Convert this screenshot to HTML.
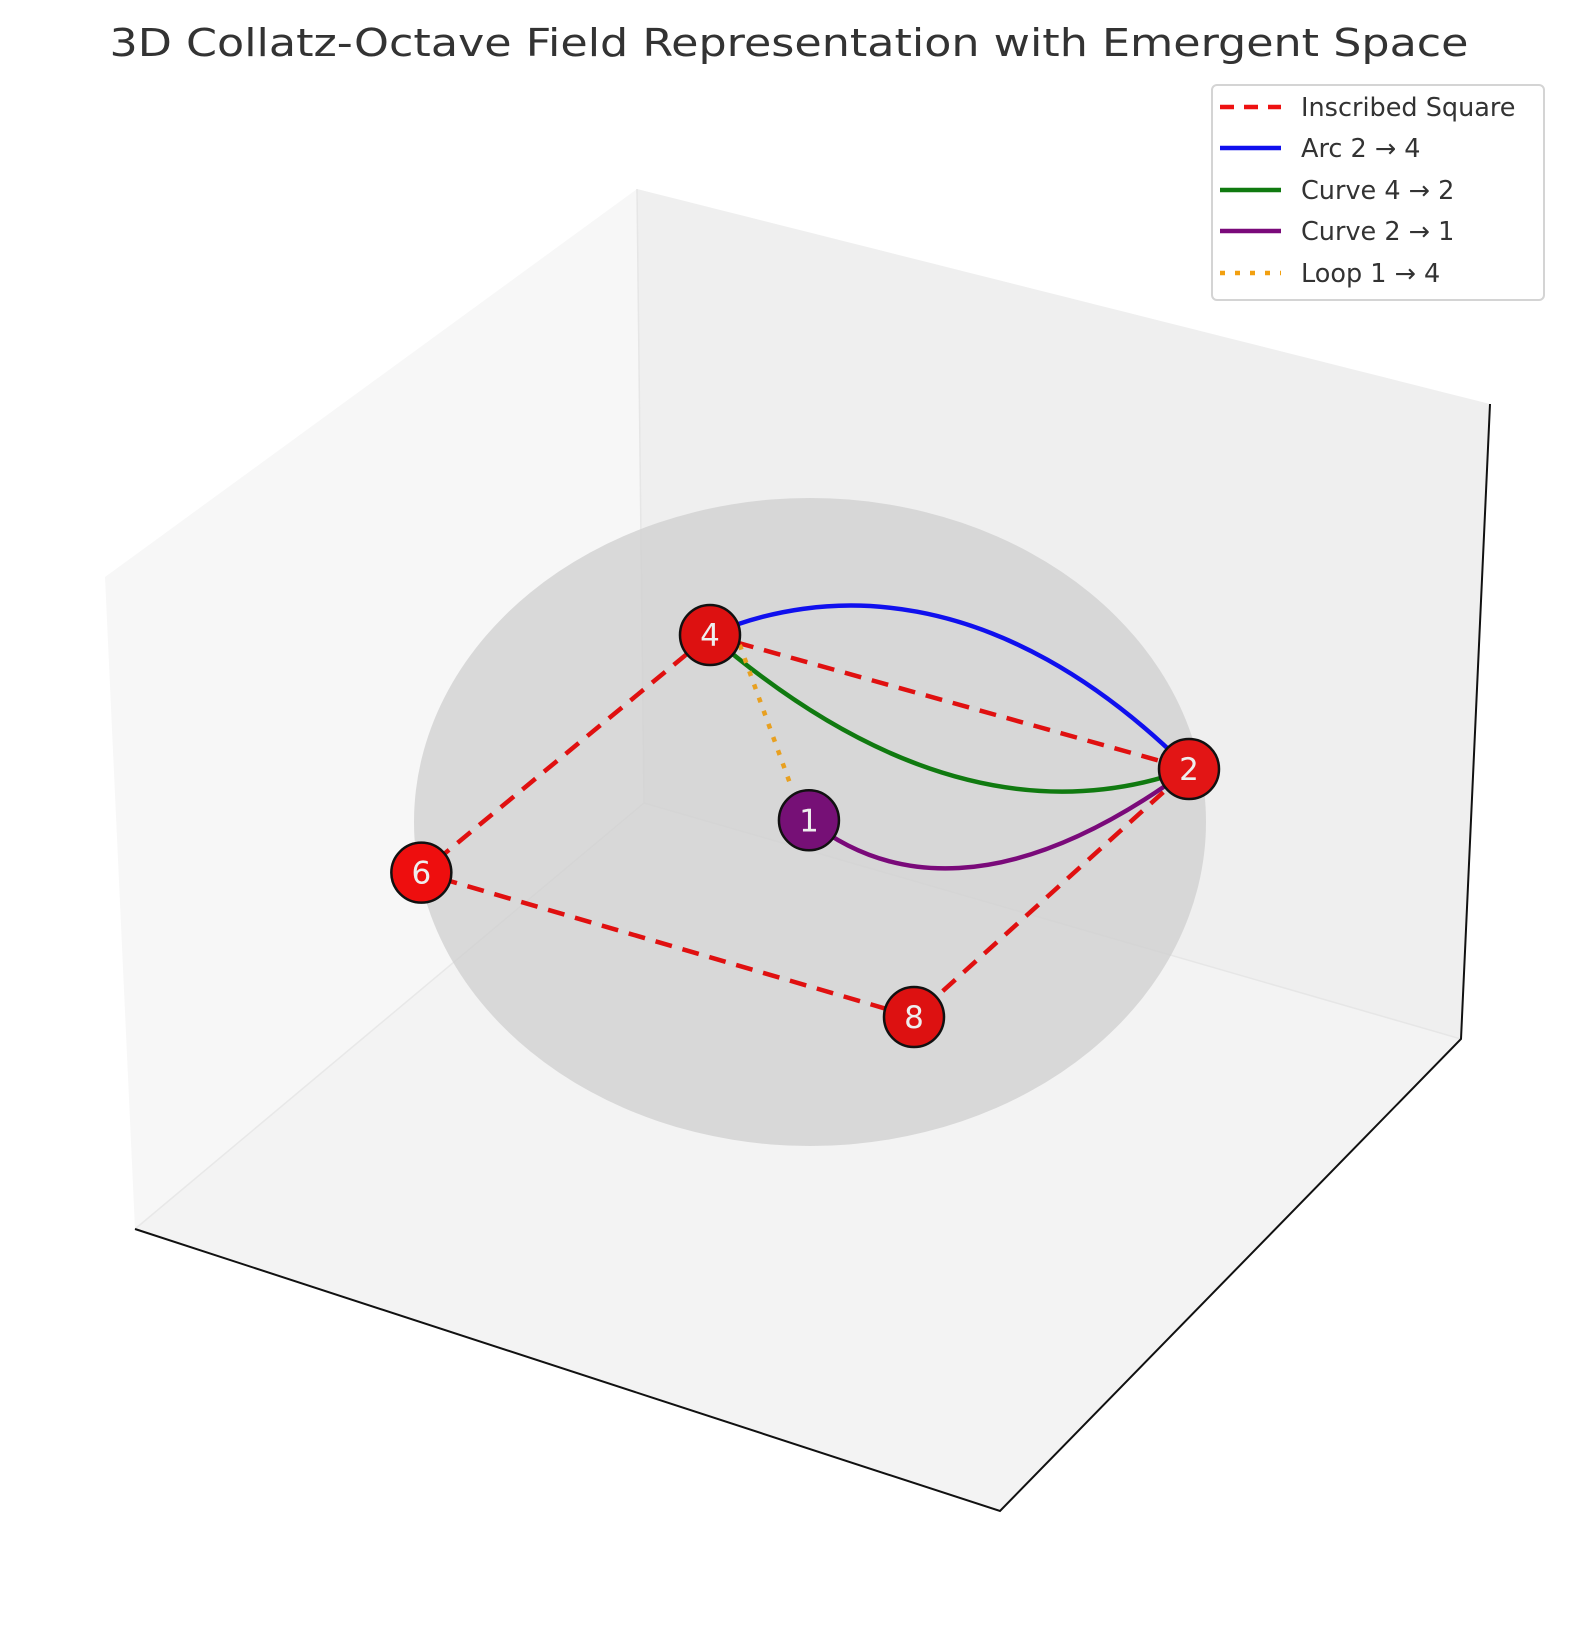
<!DOCTYPE html>
<html><head><meta charset="utf-8"><style>
html,body{margin:0;padding:0;background:#fff;}
svg{display:block;font-family:"DejaVu Sans","Liberation Sans",sans-serif;}
</style></head><body>
<svg id="chart" width="1580" height="1630" viewBox="0 0 1580 1630">
  <text x="789" y="56" text-anchor="middle" font-size="38" fill="#333" textLength="1359" lengthAdjust="spacingAndGlyphs">3D Collatz-Octave Field Representation with Emergent Space</text>
  <polygon points="637,189 105,577 135,1229 644,803" fill="#f7f7f7"/>
  <polygon points="637,189 1490,404 1461,1039 644,803" fill="#efefef"/>
  <polygon points="644,803 135,1229 1000,1511 1461,1039" fill="#f3f3f3"/>
  <line x1="637" y1="189" x2="644" y2="803" stroke="#e6e6e6" stroke-width="1.5"/>
  <line x1="644" y1="803" x2="135" y2="1229" stroke="#e8e8e8" stroke-width="1.5"/>
  <line x1="644" y1="803" x2="1461" y2="1039" stroke="#e6e6e6" stroke-width="1.5"/>
  <polyline points="135,1229 1000,1511 1461,1039 1490,404" fill="none" stroke="#111" stroke-width="2"/>
  <ellipse cx="810" cy="822" rx="396" ry="324" fill="#cfcfcf" fill-opacity="0.75"/>
  <g id="marks"></g>
  <g>
    <rect x="1212" y="85" width="332" height="215" rx="5" fill="#fff" fill-opacity="0.85" stroke="#d4d4d4" stroke-width="2"/>
    <g id="legend-items"></g>
  </g>
</svg>
<script>
const NS='http://www.w3.org/2000/svg';
// node data in plane coords (u,v)
const nodeLabels=['4','2','8','6','1'];
const nodeU=[0,1,0,-1.02,0];
const nodeV=[1,0,-1,0.06,0.03];
const nodeColors=['#dd1111','#e21515','#dd1111','#ee0e0e','#761076'];
const squareOrder=[0,1,2,3,0];
// curves: control points (u,v)
const blueU=[0,0.326,0.777,1], blueV=[1,1.149,1.081,0];
const greenU=[0,0.144,0.426,1], greenV=[1,0.464,-0.2,0];
const purpleU=[0,0.108,0.374,1], purpleV=[0.03,-0.32,-0.52,0];
const loopU=[0.06,0], loopV=[0.93,0.2];
const legendLabels=['Inscribed Square','Arc 2 → 4','Curve 4 → 2','Curve 2 → 1','Loop 1 → 4'];
const legendColors=['#ee1111','#1010ee','#107a10','#7a0a7a','#f2a010'];
const legendDash=['14,10','','','','5,10'];

const C=[812,826], EX=[377,-57], EY=[-102,-191];
function px(u,v){return C[0]+u*EX[0]+v*EY[0];}
function py(u,v){return C[1]+u*EX[1]+v*EY[1];}
const marks=document.getElementById('marks');
function mk(tag,attrs){const e=document.createElementNS(NS,tag);for(const k in attrs)e.setAttribute(k,attrs[k]);return e;}

let d='';
squareOrder.forEach((i,k)=>{d+=(k?'L':'M')+px(nodeU[i],nodeV[i])+','+py(nodeU[i],nodeV[i]);});
const sq=mk('path',{d:d,fill:'none',stroke:'#e01010','stroke-width':4.5,'stroke-dasharray':'17,11'});


marks.appendChild(sq);

function curve(U,V,color,name){
  const dd='M'+px(U[0],V[0])+','+py(U[0],V[0])+' C'+[1,2,3].map(i=>px(U[i],V[i])+','+py(U[i],V[i])).join(' ');
  const p=mk('path',{d:dd,fill:'none',stroke:color,'stroke-width':4.5});
  
  
  marks.appendChild(p);
}
curve(blueU,blueV,'#1010ee','arc-2-4');
curve(greenU,greenV,'#107a10','curve-4-2');
curve(purpleU,purpleV,'#7a0a7a','curve-2-1');
const lp=mk('line',{x1:px(loopU[0],loopV[0]),y1:py(loopU[0],loopV[0]),x2:px(loopU[1],loopV[1]),y2:py(loopU[1],loopV[1]),stroke:'#e8a020','stroke-width':4.5,'stroke-dasharray':'5,9'});


marks.appendChild(lp);

nodeLabels.forEach((lab,i)=>{
  const x=px(nodeU[i],nodeV[i]), y=py(nodeU[i],nodeV[i]);
  const c=mk('circle',{cx:x,cy:y,r:30,fill:nodeColors[i],stroke:'#111','stroke-width':2.5});
  
  
  marks.appendChild(c);
  const t=mk('text',{x:x,y:y+11,'text-anchor':'middle','font-size':31,fill:'#eee'});
  t.textContent=lab;
  
  
  marks.appendChild(t);
});

const lg=document.getElementById('legend-items');
legendLabels.forEach((lab,i)=>{
  const y=[108,149,191,232,274][i];
  const l=mk('line',{x1:1220,y1:y-1,x2:1281,y2:y-1,stroke:legendColors[i],'stroke-width':4.5});
  if(legendDash[i])l.setAttribute('stroke-dasharray',legendDash[i]);
  
  
  lg.appendChild(l);
  const t=mk('text',{x:1301,y:y+8,'font-size':25.5,fill:'#333'});
  t.textContent=lab;
  
  
  lg.appendChild(t);
});
</script>
</body></html>
